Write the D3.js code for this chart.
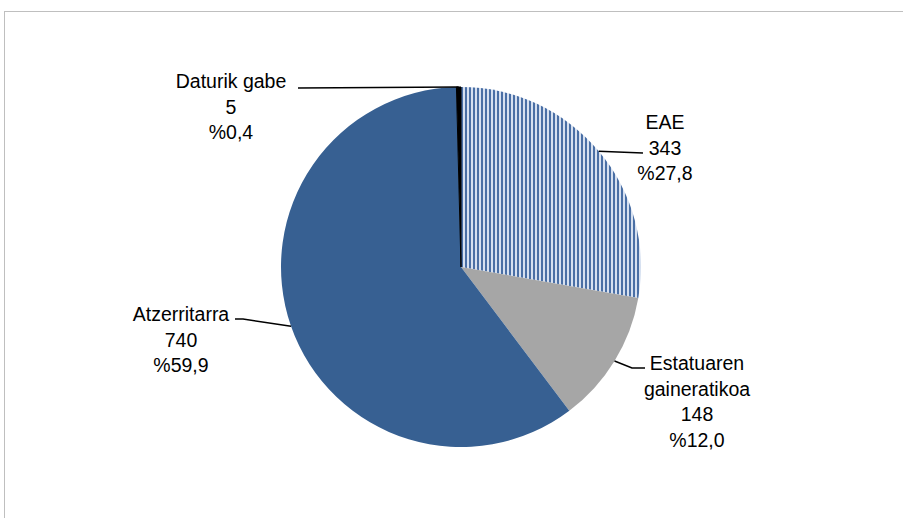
<!DOCTYPE html>
<html>
<head>
<meta charset="utf-8">
<script src="https://cdn.jsdelivr.net/npm/d3@7"></script>
<style>
  body { margin: 0; background: #fff; }
  svg { display: block; }
  text { font-family: "Liberation Sans", Arial, sans-serif; font-size: 19.5px; fill: #000; }
</style>
</head>
<body>
<script>
// data
const categories = ['EAE', 'Estatuaren gaineratikoa', 'Atzerritarra', 'Daturik gabe'];
const values = [343, 148, 740, 5];
const percents = ['%27,8', '%12,0', '%59,9', '%0,4'];
const labelLines = [['EAE'], ['Estatuaren', 'gaineratikoa'], ['Atzerritarra'], ['Daturik gabe']];

// layout for the labels (text anchor + leader elbow)
const labelLayout = [
    { x: 665, y: 129, elbow: [[643, 153]] },
    { x: 697, y: 370, elbow: [[632, 368], [645, 368]] },
    { x: 181, y: 321, elbow: [[243, 319], [235, 319]] },
    { x: 231, y: 88, elbow: [[298, 88]] }
];

const W = 903, H = 518;
const cx = 461, cy = 267, r = 180;
const lineH = 25.5;

const svg = d3.select('body').append('svg')
    .attr('width', W)
    .attr('height', H);

// chart area border
svg.append('rect')
    .attr('x', 4.5).attr('y', 11.5)
    .attr('width', W + 10).attr('height', H + 10)
    .attr('fill', 'none')
    .attr('stroke', '#bfbfbf')
    .attr('stroke-width', 1);

// stripe pattern for EAE
const defs = svg.append('defs');
const pat = defs.append('pattern')
    .attr('id', 'stripes')
    .attr('patternUnits', 'userSpaceOnUse')
    .attr('width', 4).attr('height', 4);
pat.append('rect').attr('width', 4).attr('height', 4).attr('fill', '#d6e0f0');
pat.append('rect').attr('width', 2).attr('height', 4).attr('fill', '#4a6fa5');

const fills = ['url(#stripes)', '#a6a6a6', '#376092', '#000000'];

const pie = d3.pie().sort(null).value(d => d);
const arcs = pie(values);
const arc = d3.arc().innerRadius(0).outerRadius(r);
const edge = d3.arc().innerRadius(r).outerRadius(r);

const g = svg.append('g').attr('transform', `translate(${cx},${cy})`);

g.selectAll('path.slice')
    .data(arcs)
    .enter()
    .append('path')
    .attr('class', 'slice')
    .attr('d', arc)
    .attr('fill', (d, i) => fills[i])
    .attr('stroke', (d, i) => i === 3 ? '#000' : 'none')
    .attr('stroke-width', 1);

// leader lines
const line = d3.line();
arcs.forEach((d, i) => {
    const p = edge.centroid(d);
    const pts = [[p[0] + cx, p[1] + cy]].concat(labelLayout[i].elbow);
    svg.append('path')
        .attr('d', line(pts))
        .attr('fill', 'none')
        .attr('stroke', '#000')
        .attr('stroke-width', 1.5);
});

// labels
arcs.forEach((d, i) => {
    const lines = labelLines[i].concat([String(values[i]), percents[i]]);
    const t = svg.append('text')
        .attr('text-anchor', 'middle')
        .attr('x', labelLayout[i].x)
        .attr('y', labelLayout[i].y);
    lines.forEach((s, j) => {
        t.append('tspan')
            .attr('x', labelLayout[i].x)
            .attr('dy', j === 0 ? 0 : lineH)
            .text(s);
    });
});
</script>
</body>
</html>
